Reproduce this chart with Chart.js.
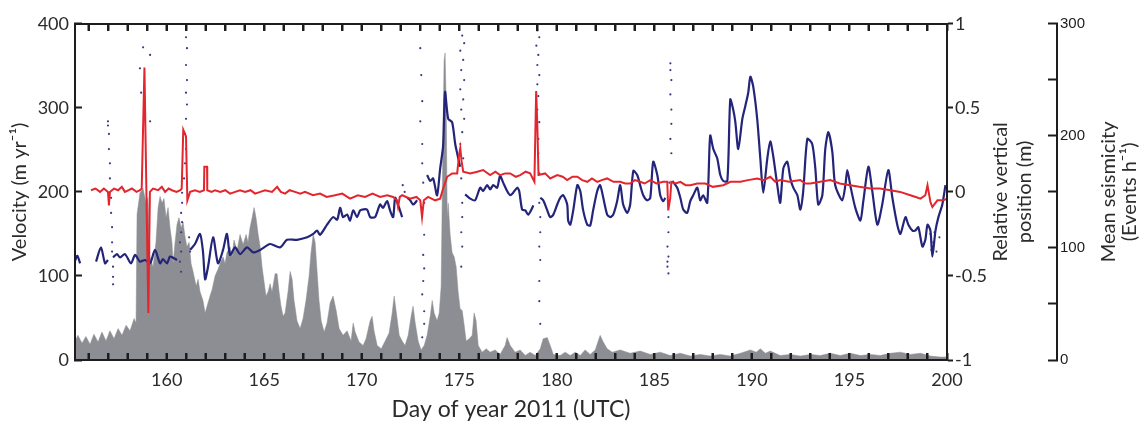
<!DOCTYPE html>
<html>
<head>
<meta charset="utf-8">
<script src="https://cdn.jsdelivr.net/npm/chart.js"></script>
<style>
  html, body { margin: 0; padding: 0; background: #fff; }
  #wrap { width: 1148px; height: 427px; position: relative; }
</style>
</head>
<body>
<div id="wrap"><canvas id="glacierChart"></canvas></div>
<script>
// velocity (m/yr), null = gap in the record
let velDay = [155.30,155.42,155.56,155.80,156.38,156.63,156.84,156.99,157.12,157.25,157.45,157.61,157.86,158.17,158.38,158.63,158.89,159.15,159.40,159.66,159.81,160.02,160.17,160.53,160.85,
  161.20,161.45,161.71,161.86,161.97,162.12,162.38,162.63,162.89,163.09,163.25,163.51,163.76,164.12,164.43,164.79,165.30,165.81,166.17,166.68,167.20,167.51,167.71,167.86,168.22,168.53,168.74,168.89,
  169.04,169.25,169.40,169.56,169.76,169.92,170.27,170.43,170.68,170.94,171.09,171.30,171.45,171.61,171.71,171.86,172.07,172.20,172.33,172.48,172.63,172.84,173.10,
  173.35,173.51,173.66,173.86,174.02,174.17,174.27,174.43,174.63,174.79,174.89,175.04,175.15,175.30,175.56,175.81,176.07,176.22,176.43,176.58,176.74,176.94,177.09,177.25,177.45,177.61,177.76,177.97,
  178.07,178.22,178.38,178.53,178.74,178.79,178.95,179.15,179.30,179.51,179.66,179.82,180.02,180.17,180.33,180.53,180.58,180.69,180.84,181.05,181.20,181.35,181.56,181.71,181.86,182.07,182.22,182.38,
  182.58,182.74,182.89,183.09,183.25,183.40,183.61,183.76,183.92,184.12,184.27,184.43,184.63,184.79,184.94,185.15,185.30,185.45,185.56,185.75,185.92,186.17,186.33,186.48,186.68,186.84,186.99,187.20,
  187.35,187.50,187.71,187.86,188.02,188.22,188.38,188.53,188.74,188.89,189.04,189.15,189.30,189.51,189.66,189.81,189.92,190.07,190.27,190.43,190.58,190.79,190.94,191.09,191.30,191.45,191.61,191.81,
  191.97,192.12,192.33,192.48,192.63,192.84,193.09,193.25,193.40,193.61,193.76,193.92,194.12,194.27,194.63,194.79,194.89,195.04,195.30,195.56,195.71,195.97,196.17,196.43,196.68,196.99,197.20,197.45,
  197.61,197.87,198.02,198.23,198.38,198.53,198.74,198.89,199.00,199.15,199.25,199.41,199.56,199.76,199.92];
let velValue = [118,124,115,null,117,134,115,119,null,122,126,122,126,115,125,117,119,115,131,115,120,115,123,119,null,
  131,138,150,129,96,111,146,115,131,150,125,134,126,134,128,131,138,134,143,143,146,150,154,149,161,170,167,181,
  170,173,166,178,170,178,179,170,170,185,181,189,178,170,193,185,170,null,193,190,185,190,null,
  220,213,216,196,228,255,319,287,283,257,246,230,null,197,192,190,205,201,208,203,208,205,219,211,201,196,199,205,
  201,179,178,173,181,184,null,193,190,178,170,173,185,193,196,185,166,161,178,208,201,178,161,160,178,201,208,193,
  173,170,173,189,208,185,175,185,225,220,208,196,190,193,236,220,196,189,193,null,213,205,193,179,175,189,196,205,
  190,196,187,267,251,240,220,213,213,310,298,283,251,287,302,318,337,325,287,240,199,240,260,243,208,187,228,236,
  216,205,196,179,201,263,257,228,185,196,251,271,248,208,190,208,226,208,181,166,189,230,201,161,185,226,193,161,
  150,170,161,154,154,158,135,143,161,154,123,154,170,185,208];

// scattered velocity samples during the drainage events
let dotDay = [156.99,156.99,157.04,157.04,157.09,157.09,157.15,157.15,157.20,157.20,157.20,157.25,157.25,157.25,
  158.79,159.15,158.63,158.69,159.15,
  160.99,161.04,160.99,161.04,160.99,161.04,160.99,160.94,160.99,160.94,160.89,160.79,160.79,160.74,160.79,160.74,160.68,160.74,160.68,160.74,161.15,161.20,
  172.10,172.20,
  173.00,173.05,173.10,173.00,173.10,173.10,173.15,173.20,173.20,173.15,173.20,173.15,173.10,173.20,173.20,173.10,
  175.15,175.25,175.05,175.20,175.10,175.25,175.05,175.20,175.10,175.25,175.15,175.05,175.20,175.10,175.15,175.15,175.10,175.15,175.10,
  179.00,179.10,178.95,179.05,179.00,179.10,179.00,179.05,179.00,179.10,179.05,179.05,179.10,179.10,179.15,179.15,179.10,179.15,179.10,179.10,179.15,
  185.82,185.82,185.87,185.82,185.87,185.87,185.82,185.87,185.77,185.72,185.72,185.67,185.72,185.67,185.67,185.72,
  199.15,199.30,199.46,199.61,199.20,199.36];
let dotValue = [284,279,269,251,234,216,193,175,158,140,129,111,99,90,
  372,363,347,318,284,
  384,371,351,333,318,304,287,269,251,234,216,199,187,175,164,152,140,129,117,105,146,129,
  208,200,
  371,339,308,284,257,234,211,187,149,125,109,94,78,58,43,27,
  386,377,368,357,345,333,322,310,298,287,271,257,240,216,187,170,152,135,111,
  392,384,374,363,351,339,328,314,298,283,263,246,222,187,170,152,135,119,94,70,43,
  353,345,333,316,298,281,263,246,211,170,152,135,123,117,111,103,
  150,140,129,146,131,152];

// relative vertical position (m)
let posDay = [156.12,156.35,156.58,156.78,156.99,157.04,157.09,157.30,157.51,157.70,157.86,158.05,158.22,158.45,158.63,158.72,158.86,158.96,159.06,159.14,159.30,159.56,159.75,159.92,
  160.10,160.27,160.50,160.70,160.77,160.85,160.99,161.06,161.20,161.45,161.70,161.91,161.93,162.07,162.08,162.30,162.48,162.75,163.00,163.25,163.51,163.76,164.02,164.30,164.53,164.80,
  165.04,165.40,165.66,165.85,166.07,166.30,166.58,166.85,167.09,167.50,167.86,168.20,168.63,169.00,169.40,169.80,170.17,170.55,170.94,171.30,171.61,171.80,171.86,171.95,172.07,172.48,
  172.80,173.00,173.09,173.18,173.40,173.76,174.02,174.17,174.38,174.63,174.89,174.99,175.05,175.12,175.20,175.56,175.92,176.22,176.58,176.85,177.09,177.35,177.61,177.90,178.12,178.40,
  178.63,178.85,178.94,179.00,179.06,179.40,179.66,180.02,180.30,180.53,180.80,181.05,181.30,181.56,181.80,182.07,182.30,182.58,182.90,183.25,183.50,183.76,184.00,184.27,184.50,184.79,
  185.10,185.45,185.66,185.71,185.81,185.87,186.10,186.33,186.60,186.84,187.20,187.61,188.00,188.53,188.90,189.41,189.80,190.27,190.60,190.94,191.20,191.45,191.90,192.48,192.75,193.00,
  193.50,194.02,194.50,195.04,195.50,196.07,196.55,197.10,197.60,198.12,198.40,198.64,198.89,199.00,199.15,199.25,199.51,199.82,200.00];
let posValue = [0.01,0.02,0.00,0.02,0.00,-0.08,0.00,0.02,0.01,0.03,0.00,0.01,0.02,0.00,0.01,0.02,0.74,0.00,-0.72,0.00,0.02,0.01,0.03,0.00,
  0.02,0.01,0.00,0.01,0.02,0.37,0.33,-0.05,0.00,0.01,0.00,0.01,0.15,0.15,0.01,0.00,0.01,0.00,0.01,-0.01,0.00,0.01,0.00,0.01,-0.01,0.00,
  0.01,0.00,0.03,0.00,-0.01,0.01,0.00,-0.01,0.00,-0.02,-0.01,-0.03,-0.02,-0.01,-0.04,-0.02,-0.03,-0.01,-0.03,-0.02,-0.03,-0.05,-0.09,-0.03,-0.02,-0.04,
  -0.03,-0.05,-0.15,-0.05,-0.03,-0.05,-0.04,0.02,0.09,0.11,0.11,0.22,0.26,0.18,0.12,0.11,0.12,0.13,0.10,0.12,0.10,0.11,0.11,0.09,0.10,0.12,
  0.11,0.06,0.60,0.40,0.10,0.11,0.08,0.10,0.09,0.07,0.09,0.09,0.07,0.06,0.08,0.06,0.07,0.08,0.06,0.06,0.05,0.05,0.07,0.06,0.05,0.07,
  0.05,0.06,0.06,-0.11,-0.04,0.06,0.05,0.06,0.04,0.04,0.05,0.05,0.03,0.04,0.06,0.06,0.07,0.08,0.07,0.09,0.06,0.07,0.06,0.07,0.05,0.05,
  0.06,0.07,0.05,0.04,0.03,0.02,0.02,0.01,0.00,-0.02,-0.03,-0.04,-0.02,0.04,-0.06,-0.09,-0.05,-0.05,-0.04];

// mean seismicity (events per hour)
let seisDay = [155.30,155.45,155.66,155.86,156.07,156.27,156.48,156.68,156.89,157.09,157.30,157.51,157.71,157.92,158.12,158.33,158.43,158.48,158.63,158.79,158.94,159.04,159.15,159.30,159.45,
  159.56,159.66,159.76,159.86,159.97,160.07,160.17,160.27,160.33,160.43,160.53,160.63,160.74,160.84,160.94,161.04,161.15,161.25,161.35,161.51,161.61,161.71,161.86,161.97,162.07,162.22,162.33,
  162.48,162.63,162.74,162.89,162.99,163.09,163.25,163.35,163.45,163.61,163.76,163.92,164.07,164.17,164.27,164.38,164.48,164.58,164.69,164.79,164.89,164.99,165.09,165.20,165.30,165.40,165.56,
  165.66,165.76,165.86,165.97,166.07,166.22,166.33,166.43,166.53,166.68,166.84,166.99,167.14,167.30,167.40,167.51,167.61,167.71,167.81,167.92,168.07,168.22,168.38,168.53,168.69,168.84,169.04,
  169.25,169.45,169.56,169.66,169.86,170.07,170.22,170.43,170.53,170.63,170.79,171.00,171.20,171.40,171.56,171.66,171.76,171.92,172.07,172.22,172.38,172.53,172.63,172.74,172.89,173.04,173.20,
  173.35,173.51,173.61,173.71,173.86,173.97,174.07,174.17,174.22,174.27,174.33,174.38,174.43,174.53,174.63,174.74,174.84,174.94,175.04,175.15,175.25,175.35,175.51,175.66,175.76,175.86,175.97,
  176.17,176.38,176.58,176.84,177.09,177.35,177.45,177.61,177.86,178.12,178.38,178.63,178.89,179.15,179.30,179.51,179.66,179.82,180.17,180.43,180.69,180.94,181.20,181.45,181.71,181.97,182.12,
  182.22,182.38,182.58,182.84,183.25,183.76,184.27,184.79,185.30,185.81,186.33,186.84,187.35,187.86,188.38,188.89,189.41,189.92,190.22,190.43,190.69,190.94,191.45,191.97,192.48,193.00,193.51,
  194.02,194.53,195.04,195.56,196.07,196.58,197.10,197.61,198.12,198.64,199.15,199.66,200.00];
let seisValue = [17,22,15,21,14,23,16,25,17,26,19,28,22,31,26,37,33,130,149,153,140,145,92,83,105,
  136,146,140,144,127,136,118,105,86,105,121,127,118,123,110,101,105,86,79,66,72,61,53,42,48,57,63,
  75,81,86,92,86,96,101,92,107,98,112,103,112,105,118,127,136,127,112,101,83,70,57,61,68,61,77,
  77,61,48,39,42,61,79,72,53,35,28,37,53,75,96,112,105,79,53,35,25,33,51,57,44,28,22,
  26,17,33,25,16,13,19,35,39,26,13,10,17,24,42,57,44,22,17,13,22,39,48,33,17,9,13,
  22,39,53,42,35,42,66,210,267,274,228,127,140,112,96,92,83,61,46,44,31,17,19,22,42,35,13,
  7,10,7,9,5,13,20,13,7,9,4,7,4,10,19,20,13,5,4,7,4,7,4,9,5,9,17,
  22,16,10,7,9,6,8,5,7,4,6,3.5,5,3.5,5,3.5,6,9,7,10,6,8,4,5,3.5,5,4,
  6,4,6,4,5,4,6,7,5,6,3.5,2.6,2.6];

let dayLabels  = [160, 165, 170, 175, 180, 185, 190, 195, 200];
let seisLabels = [0, 100, 200, 300];

function toPoints(days, values){
    return days.map((d, i) => ({x: d, y: values[i]}));
}

const txt = '#2b2b2b';
const ink = '#1d1d1d';
const axisFont = {family: 'Lato', size: 18};

// axis line plus short tick marks; negative length turns the ticks inward
function axisLook(tickLen){
    return {
        grid: {display: true, drawOnChartArea: false, drawTicks: true, tickLength: tickLen, tickWidth: 2, tickColor: ink, color: ink, z: 1},
        border: {display: true, color: ink, width: 2, z: 1}
    };
}

// right hand titles read bottom to top; top and bottom frame edges redrawn on top of everything
const overlay = {
    id: 'overlay',
    afterDraw(chart){
        let ctx = chart.ctx;
        let sx = chart.scales.x, sp = chart.scales.y1, ss = chart.scales.y2;
        let area = chart.chartArea;
        ctx.save();
        ctx.fillStyle = ink;
        let L = Math.round(area.left), R = Math.round(area.right);
        let T = Math.round(area.top), B = Math.round(area.bottom);
        ctx.fillRect(L - 1, T - 1, R - L + 2, 2);
        ctx.fillRect(L - 1, B - 1, R - L + 2, 2);
        for(let d = Math.ceil(sx.min); d < sx.max; d++){
            let px = Math.round(sx.getPixelForValue(d));
            ctx.fillRect(px - 1, T, 2, 7);
            ctx.fillRect(px - 1, B - 7, 2, 7);
        }

        let yc = (sp.top + sp.bottom) / 2;
        let titles = [
            [sp.left + 54, 'Relative vertical'],
            [sp.left + 78, 'position (m)'],
            [ss.left + 52, 'Mean seismicity'],
            [ss.left + 73, '(Events h\u207B\u00B9)']
        ];
        ctx.fillStyle = txt;
        ctx.font = '20px Lato';
        ctx.textAlign = 'center';
        ctx.textBaseline = 'middle';
        titles.forEach(t => {
            ctx.save();
            ctx.translate(t[0], yc);
            ctx.rotate(-Math.PI / 2);
            ctx.fillText(t[1], 0, 0);
            ctx.restore();
        });
        ctx.restore();
    }
};

new Chart(document.getElementById('glacierChart'), {
    type: 'line',
    data: {
        datasets: [
            {
                label: 'Vertical position',
                data: toPoints(posDay, posValue),
                yAxisID: 'y1',
                borderColor: '#e3262e',
                borderWidth: 2,
                pointRadius: 0,
                order: 0
            },
            {
                label: 'Velocity',
                data: toPoints(velDay, velValue),
                yAxisID: 'y',
                borderColor: '#24247a',
                borderWidth: 2.2,
                pointRadius: 0,
                tension: 0.25,
                order: 1
            },
            {
                label: 'Velocity samples',
                data: toPoints(dotDay, dotValue),
                yAxisID: 'y',
                showLine: false,
                pointRadius: 1.1,
                pointBorderWidth: 0,
                pointBackgroundColor: '#3a3a8c',
                order: 2
            },
            {
                label: 'Seismicity',
                data: toPoints(seisDay, seisValue),
                yAxisID: 'y2',
                borderColor: '#8d8e93',
                backgroundColor: '#8d8e93',
                borderWidth: 0.5,
                pointRadius: 0,
                fill: 'origin',
                order: 3
            }
        ]
    },
    options: {
        responsive: true,
        maintainAspectRatio: false,
        animation: false,
        layout: {padding: 0},
        plugins: {legend: {display: false}, tooltip: {enabled: false}},
        scales: {
            x: {
                type: 'linear', position: 'bottom', min: 155.3, max: 200,
                afterFit: s => { s.height = 67; },
                ...axisLook(-7),
                ticks: {stepSize: 1, includeBounds: false, autoSkip: false, padding: 16, maxRotation: 0, color: txt, font: axisFont,
                        callback: v => dayLabels.includes(v) ? String(v) : ''},
                title: {display: true, text: 'Day of year 2011 (UTC)', color: txt, font: {family: 'Lato', size: 23}, padding: {top: 0, bottom: 4}}
            },
            xTop: {
                type: 'linear', position: 'top', min: 155.3, max: 200,
                afterFit: s => { s.height = 17; },
                ...axisLook(-7),
                ticks: {stepSize: 1, includeBounds: false, autoSkip: false, callback: () => ''}
            },
            y: {
                position: 'left', min: 0, max: 400,
                afterFit: s => { s.width = 75; },
                ...axisLook(-7),
                ticks: {stepSize: 100, padding: 13, color: txt, font: axisFont},
                title: {display: true, text: 'Velocity (m yr\u207B\u00B9)', color: txt, font: {family: 'Lato', size: 20}, padding: {top: 8, bottom: 0}}
            },
            y1: {
                position: 'right', min: -1, max: 1, weight: 0,
                afterFit: s => { s.width = 110; },
                ...axisLook(6),
                ticks: {stepSize: 0.5, padding: 2, color: txt, font: axisFont, callback: v => String(v)}
            },
            y2: {
                position: 'right', min: 0, max: 300, weight: 1,
                afterFit: s => { s.width = 91; },
                ...axisLook(-9),
                ticks: {stepSize: 50, padding: 12, autoSkip: false, color: ink, font: {family: 'Liberation Sans', size: 15},
                        callback: v => seisLabels.includes(v) ? String(v) : ''}
            }
        }
    },
    plugins: [overlay]
});
</script>
</body>
</html>
